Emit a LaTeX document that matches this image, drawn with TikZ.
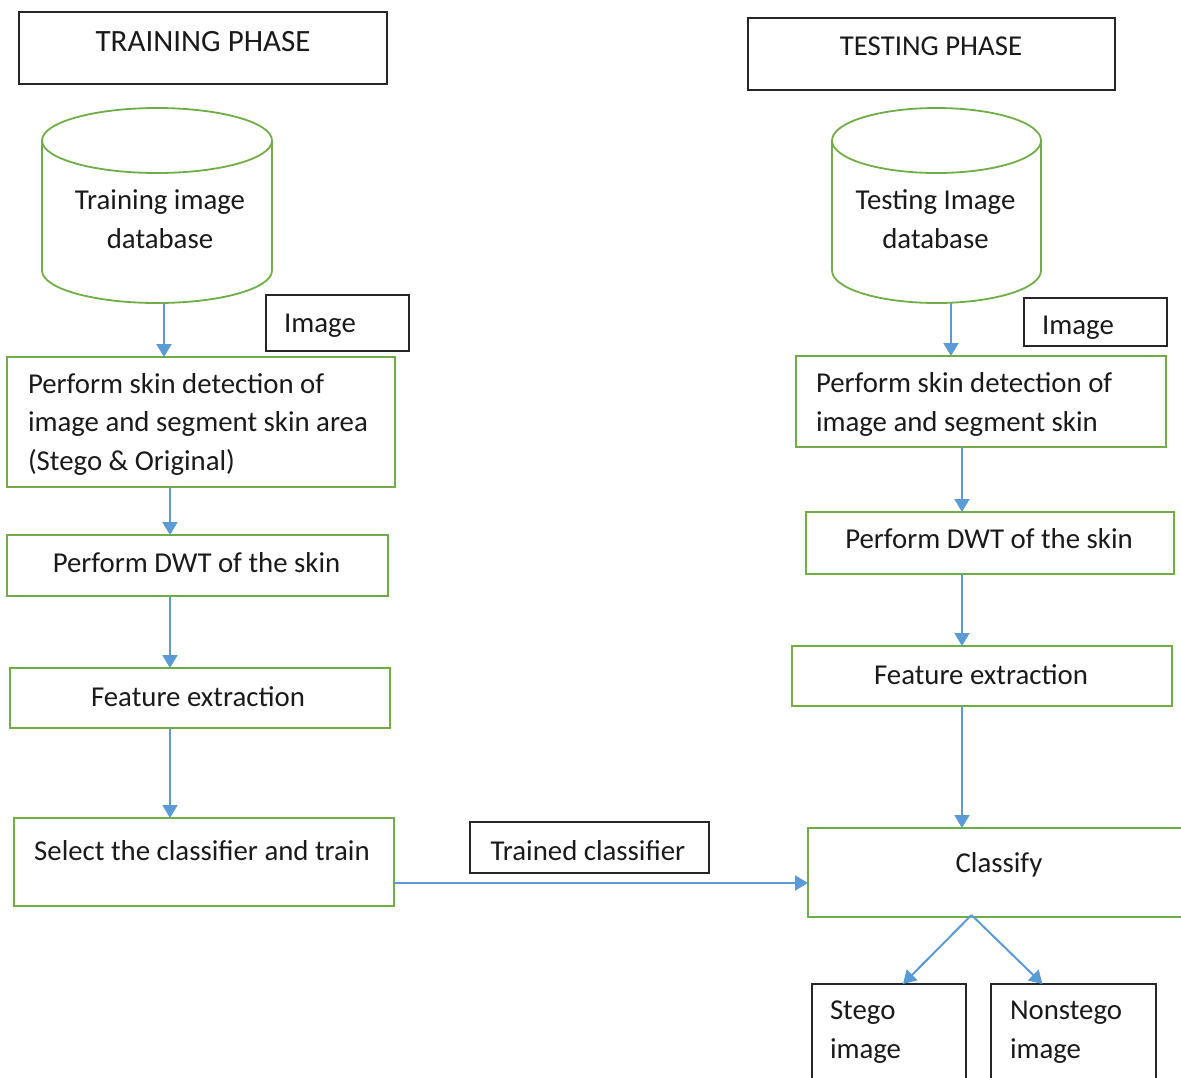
\documentclass[tikz,border=0pt]{standalone}
\usepackage{fontspec}
\setmainfont{Carlito}
\usetikzlibrary{arrows.meta}
\definecolor{gline}{HTML}{70AD47}
\definecolor{bline}{HTML}{5B9BD5}
\definecolor{kline}{HTML}{262626}
\definecolor{txt}{HTML}{1A1A1A}
\begin{document}
\begin{tikzpicture}[x=1pt,y=-1pt,
  gbox/.style={draw=gline, line width=1.8pt, rectangle, inner sep=0pt, outer sep=0pt},
  kbox/.style={draw=kline, line width=1.8pt, rectangle, inner sep=0pt, outer sep=0pt},
  cyl/.style={draw=gline, line width=1.8pt},
  lbl/.style={font=\fontsize{28.8}{38.5}\selectfont, text=txt, inner sep=0pt, outer sep=0pt},
  arr/.style={draw=bline, line width=2pt, -{Triangle[length=13pt,width=15pt]}}]
\useasboundingbox (0,0) rectangle (1181,1077);
\clip (0,0) rectangle (1181,1077);

% phase headers
\node[kbox, minimum width=368, minimum height=72] (trainH) at (203,48) {};
\node[lbl, anchor=base, font=\fontsize{31}{39}\selectfont] (trainHt) at (203,51) {TRAINING PHASE};
\node[kbox, minimum width=367, minimum height=72] (testH) at (931.5,54) {};
\node[lbl, anchor=base] (testHt) at (931,55) {TESTING PHASE};

% cylinders
\draw[cyl] (157,140.5) ellipse [x radius=115, y radius=32.5];
\draw[cyl] (42,140.5) -- (42,270.5) arc[start angle=180, end angle=0, x radius=115, y radius=32.5] -- (272,140.5);
\coordinate (cylL) at (164,303);
\node[lbl, align=center, anchor=base] (cylLt) at (160,248) {Training image\\database};

\draw[cyl] (936.5,140.5) ellipse [x radius=104.5, y radius=32.5];
\draw[cyl] (832,140.5) -- (832,270.5) arc[start angle=180, end angle=0, x radius=104.5, y radius=32.5] -- (1041,140.5);
\coordinate (cylR) at (951,303);
\node[lbl, align=center, anchor=base] (cylRt) at (935.5,248) {Testing Image\\database};

% image labels
\node[kbox, minimum width=143, minimum height=56] (imgL) at (337.5,323) {};
\node[lbl, anchor=base] (imgLt) at (320,332) {Image};
\node[kbox, minimum width=143, minimum height=48] (imgR) at (1095.5,322) {};
\node[lbl, anchor=base] (imgRt) at (1078,334) {Image};

% training column
\node[gbox, minimum width=388, minimum height=130] (skinL) at (201,422) {};
\node[lbl, anchor=base west, align=left] (skinLt) at (28,470) {Perform skin detection of\\image and segment skin area\\(Stego \& Original)};
\node[gbox, minimum width=381, minimum height=61] (dwtL) at (197.5,565.5) {};
\node[lbl, anchor=base] (dwtLt) at (196.5,572) {Perform DWT of the skin};
\node[gbox, minimum width=380, minimum height=60] (featL) at (200,698) {};
\node[lbl, anchor=base] (featLt) at (198,706) {Feature extraction};
\node[gbox, minimum width=380, minimum height=88] (selL) at (204,862) {};
\node[lbl, anchor=base] (selLt) at (202,860) {Select the classifier and train};

% trained classifier label
\node[kbox, minimum width=239, minimum height=51] (trained) at (589.5,847.5) {};
\node[lbl, anchor=base] (trainedt) at (588,860) {Trained classifier};

% testing column
\node[gbox, minimum width=370, minimum height=91] (skinR) at (981,401.5) {};
\node[lbl, anchor=base west, align=left] (skinRt) at (816,431) {Perform skin detection of\\image and segment skin};
\node[gbox, minimum width=368, minimum height=62] (dwtR) at (990,543) {};
\node[lbl, anchor=base] (dwtRt) at (989,548) {Perform DWT of the skin};
\node[gbox, minimum width=380, minimum height=60] (featR) at (982,676) {};
\node[lbl, anchor=base] (featRt) at (981,684) {Feature extraction};
\node[gbox, minimum width=392, minimum height=89] (classify) at (1004,872.5) {};
\node[lbl, anchor=base] (classifyt) at (999,872) {Classify};

% outputs
\node[kbox, minimum width=154, minimum height=116] (stego) at (889,1042) {};
\node[lbl, anchor=base west, align=left] (stegot) at (830,1058) {Stego\\image};
\node[kbox, minimum width=165, minimum height=116] (nonstego) at (1073.5,1042) {};
\node[lbl, anchor=base west, align=left] (nonstegot) at (1010,1058) {Nonstego\\image};

% connectors
\coordinate (colL) at (170,0);
\coordinate (colR) at (962,0);
\coordinate (split) at (971.5,915);
\draw[arr] (cylL) -- (cylL |- skinL.north);
\draw[arr] (colL |- skinL.south) -- (colL |- dwtL.north);
\draw[arr] (colL |- dwtL.south) -- (colL |- featL.north);
\draw[arr] (colL |- featL.south) -- (colL |- selL.north);
\draw[arr] ([yshift=-21pt]selL.east) -- ([yshift=-21pt]selL.east -| classify.west);
\draw[arr] (cylR) -- (cylR |- skinR.north);
\draw[arr] (colR |- skinR.south) -- (colR |- dwtR.north);
\draw[arr] (colR |- dwtR.south) -- (colR |- featR.north);
\draw[arr] (colR |- featR.south) -- (colR |- classify.north);
\draw[arr] (split) -- ([xshift=14pt]stego.north);
\draw[arr] (split) -- ([xshift=-31pt]nonstego.north);
\end{tikzpicture}
\end{document}
